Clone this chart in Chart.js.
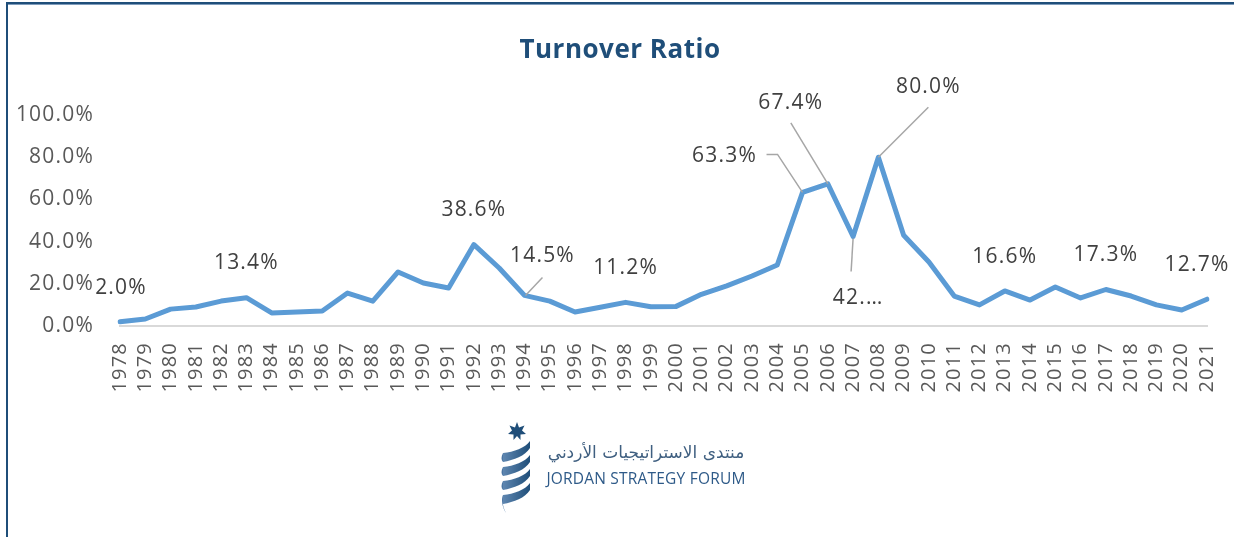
<!DOCTYPE html>
<html><head><meta charset="utf-8">
<script src="https://cdn.jsdelivr.net/npm/chart.js@4/dist/chart.umd.min.js"></script>
<style>
html,body{margin:0;padding:0;background:#fff;}
#wrap{position:relative;width:1234px;height:537px;overflow:hidden;background:#fff;}
#c{position:absolute;left:0;top:0;}
.bt{position:absolute;left:6px;top:2px;width:1228px;height:2px;background:#1F4E79;}
.bt2{position:absolute;left:8px;top:4px;width:1226px;height:1px;background:#7E9CBC;}
.bl{position:absolute;left:6px;top:2px;width:2px;height:535px;background:#1F4E79;}
#title{position:absolute;left:0;width:1240px;top:31px;text-align:center;font:bold 26px 'Open Sans';letter-spacing:0.5px;color:#1F4E79;line-height:34px;}
#ar{position:absolute;left:543px;top:439px;width:206px;text-align:center;direction:rtl;font:17px 'DejaVu Sans';color:#3F5F80;line-height:26px;}
#en{position:absolute;left:543px;top:466px;width:206px;text-align:center;font:15.5px 'Open Sans';letter-spacing:0.2px;color:#2E5A88;line-height:24px;white-space:nowrap;}
#emb{position:absolute;left:494px;top:419px;}
</style>
</head>
<body>
<div id="wrap">
<canvas id="c" width="1234" height="537"></canvas>
<div class="bt"></div><div class="bt2"></div><div class="bl"></div>
<div id="title">Turnover Ratio</div>
<svg id="emb" width="46" height="96" viewBox="0 0 46 96">
<defs><linearGradient id="g" x1="0" y1="0" x2="1" y2="0"><stop offset="0" stop-color="#5E86B0"/><stop offset="1" stop-color="#1F4E79"/></linearGradient></defs>
<polygon fill="#1F4E79" points="23,3 25,8.5 30.5,6.5 28,11.5 32,15 26.5,15.5 26.5,21 23,17 19.5,21 19.5,15.5 14,15 18,11.5 15.5,6.5 21,8.5"/>
<path fill="url(#g)" d="M9,34 C20,33 31,29 36,22 L36,29 C31,37 20,41 9,43 Z"/>
<path fill="url(#g)" d="M9,48 C20,47 31,43 36,36 L36,43 C31,51 20,55 9,57 Z"/>
<path fill="url(#g)" d="M9,62 C20,61 31,57 36,50 L36,57 C31,65 20,69 9,71 Z"/>
<path fill="url(#g)" d="M9,76 C20,75 31,71 36,64 L36,71 C31,79 20,83 9,85 Z"/>
<path fill="#4A75A3" d="M9,34 C7,38 7,41 9,43 Z M9,48 C7,52 7,55 9,57 Z M9,62 C7,66 7,69 9,71 Z M9,76 C7,80 8,88 12,94 C10,90 9,87 9,85 Z"/>
</svg>
<div id="ar">منتدى الاستراتيجيات الأردني</div>
<div id="en">JORDAN STRATEGY FORUM</div>
</div>
<script>
// ---- data ----
const years = ['1978','1979','1980','1981','1982','1983','1984','1985','1986','1987',
  '1988','1989','1990','1991','1992','1993','1994','1995','1996','1997',
  '1998','1999','2000','2001','2002','2003','2004','2005','2006','2007',
  '2008','2009','2010','2011','2012','2013','2014','2015','2016','2017',
  '2018','2019','2020','2021'];
const turnover = [2.0, 3.3, 8.0, 9.0, 11.8, 13.4, 6.2, 6.6, 7.1, 15.6,
  11.8, 25.6, 20.4, 18.0, 38.6, 27.5, 14.5, 11.8, 6.6, 8.9,
  11.2, 9.1, 9.3, 15.0, 19.0, 23.7, 28.9, 63.3, 67.4, 42.4,
  80.0, 43.0, 30.3, 14.2, 10.0, 16.6, 12.3, 18.5, 13.3, 17.3,
  14.2, 10.0, 7.6, 12.7];
const yTicks = [0, 20, 40, 60, 80, 100];
const labelYears = ['1978','1983','1992','1994','1998','2005','2006','2007','2008','2013','2017','2021'];
const labelTexts = ['2.0%','13.4%','38.6%','14.5%','11.2%','63.3%','67.4%','42.…','80.0%','16.6%','17.3%','12.7%'];

// ---- label placement (style) ----
const place = {
  '1978': {dx: 1, dy: -34},
  '1983': {dx: 0, dy: -35},
  '1992': {dx: 0, dy: -35},
  '1994': {dx: 18, dy: -39, leader: [[18,-18],[1,0]]},
  '1998': {dx: 0, dy: -34},
  '2005': {dx: -78, dy: -36, leader: [[-36,-38],[-25,-38],[0,0]]},
  '2006': {dx: -37, dy: -81, leader: [[-37,-61],[0,0]]},
  '2007': {dx: 5, dy: 61, leader: [[0,2],[-2,35]]},
  '2008': {dx: 50, dy: -70, leader: [[50,-50],[0,0]]},
  '2013': {dx: 0, dy: -34},
  '2017': {dx: 0, dy: -34},
  '2021': {dx: -10, dy: -34}
};

const spacing = {
  id: 'spacing',
  beforeDraw(chart){ chart.ctx.letterSpacing = '1.2px'; }
};

const dataLabels = {
  id: 'dataLabels',
  afterDatasetsDraw(chart){
    const ctx = chart.ctx;
    const meta = chart.getDatasetMeta(0);
    ctx.save();
    ctx.letterSpacing = '1.2px';
    labelYears.forEach((yr, k) => {
      const i = years.indexOf(yr);
      const p = meta.data[i];
      const pl = place[yr];
      if (pl.leader) {
        ctx.strokeStyle = '#A6A6A6';
        ctx.lineWidth = 1.5;
        ctx.beginPath();
        pl.leader.forEach(([dx, dy], j) => {
          if (j === 0) ctx.moveTo(p.x + dx, p.y + dy); else ctx.lineTo(p.x + dx, p.y + dy);
        });
        ctx.stroke();
      }
      ctx.font = '21px "Open Sans"';
      ctx.fillStyle = '#404040';
      ctx.textAlign = 'center';
      ctx.textBaseline = 'middle';
      ctx.fillText(labelTexts[k], p.x + pl.dx, p.y + pl.dy);
    });
    ctx.restore();
  }
};

Chart.defaults.font.family = "'Open Sans'";
new Chart(document.getElementById('c'), {
  type: 'line',
  data: {
    labels: years,
    datasets: [{
      data: turnover,
      borderColor: '#5B9BD5',
      borderWidth: 5,
      pointRadius: 0,
      tension: 0,
      borderJoinStyle: 'round',
      borderCapStyle: 'round',
      fill: false
    }]
  },
  options: {
    responsive: false,
    animation: false,
    layout: {padding: {left: 0, right: 27, top: 115, bottom: 0}},
    plugins: {legend: {display: false}, tooltip: {enabled: false}, title: {display: false}},
    scales: {
      x: {
        type: 'category',
        offset: false,
        grid: {display: false, drawTicks: false},
        border: {display: true, color: '#D9D9D9', width: 2},
        ticks: {autoSkip: false, minRotation: 90, maxRotation: 90, padding: 16,
          color: '#595959', font: {size: 20}},
        afterFit(scale){ scale.height = 211; scale.paddingLeft = 0; scale.paddingRight = 0; }
      },
      y: {
        min: 0, max: 100,
        afterBuildTicks(scale){ scale.ticks = yTicks.map(v => ({value: v})); },
        grid: {display: false, drawTicks: false},
        border: {display: false},
        ticks: {padding: 26, color: '#595959', font: {size: 21},
          callback: v => v.toFixed(1) + '%'},
        afterFit(scale){ scale.width = 120; }
      }
    }
  },
  plugins: [spacing, dataLabels]
});
</script>
</body></html>
